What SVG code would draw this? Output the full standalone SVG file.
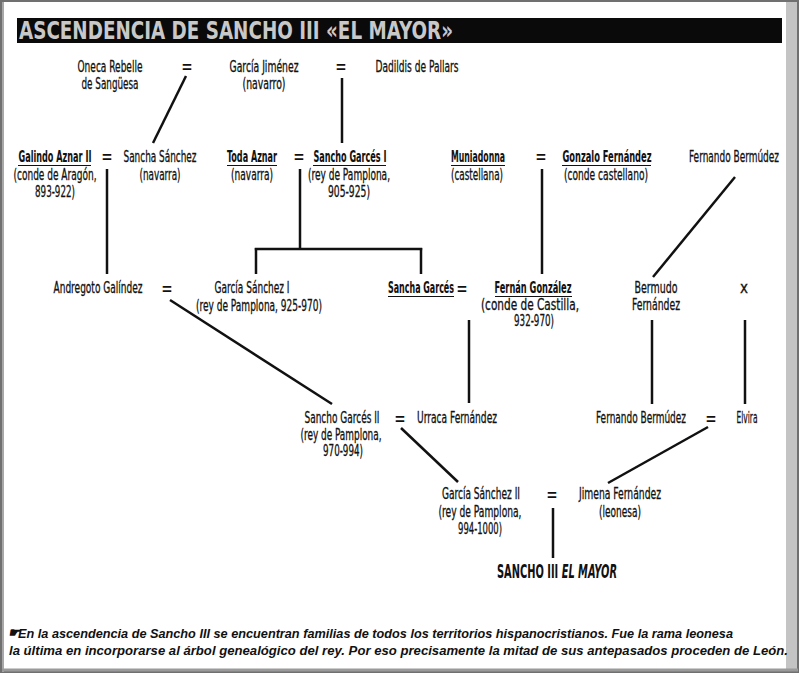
<svg xmlns="http://www.w3.org/2000/svg" width="800" height="674" viewBox="0 0 800 674">
<style>
.t{font-family:"Liberation Sans Narrow","DejaVu Sans Condensed","Liberation Sans",sans-serif;font-size:15px;fill:#111;stroke:#111;stroke-width:0.3;text-anchor:middle}
.b{font-weight:bold;stroke-width:0.1}
.eq{font-family:"Liberation Sans","DejaVu Sans",sans-serif;font-size:17px;font-weight:bold;fill:#111;text-anchor:middle}
.ul{stroke:#111;stroke-width:1.2}
.c line{stroke:#111;stroke-width:2.5;stroke-linecap:butt}
.cap{font-family:"Liberation Sans","Arial",sans-serif;font-size:13px;font-weight:bold;font-style:italic;fill:#111}
</style>
<rect x="0" y="0" width="800" height="674" fill="#fff"/>
<rect x="786" y="2" width="11" height="670" fill="#c4c4c4"/>
<rect x="1" y="1" width="797" height="671" fill="none" stroke="#707070" stroke-width="2"/>
<line x1="3" y1="2" x2="3" y2="672" stroke="#a8a8a8" stroke-width="2"/>
<line x1="2" y1="670" x2="798" y2="670" stroke="#9a9a9a" stroke-width="3"/>

<g id="title">
<rect x="17" y="18" width="765" height="25" fill="#0a0a0a"/>
<text x="19" y="39" font-family="Liberation Sans Narrow,DejaVu Sans Condensed,sans-serif" font-size="25" font-weight="bold" fill="#c8c8c8" textLength="434" lengthAdjust="spacingAndGlyphs">ASCENDENCIA DE SANCHO III «EL MAYOR»</text>
</g>

<g class="c" id="connectors">
<line x1="186" y1="76" x2="153" y2="143"/>
<line x1="342" y1="78" x2="342" y2="143"/>
<line x1="107" y1="169" x2="107" y2="274"/>
<line x1="300" y1="169" x2="300" y2="249"/>
<line x1="254.8" y1="249" x2="422.2" y2="249"/>
<line x1="256" y1="248" x2="256" y2="274"/>
<line x1="421" y1="248" x2="421" y2="274"/>
<line x1="542" y1="169" x2="542" y2="274"/>
<line x1="735" y1="177" x2="653" y2="277"/>
<line x1="170" y1="300" x2="332" y2="404"/>
<line x1="469" y1="320" x2="469" y2="403"/>
<line x1="652" y1="320" x2="652" y2="404"/>
<line x1="745" y1="320" x2="745" y2="404"/>
<line x1="401" y1="428" x2="458" y2="482"/>
<line x1="708" y1="427" x2="608" y2="483"/>
<line x1="553" y1="508" x2="553" y2="558"/>
</g>

<g id="oneca"><text class="t" x="110" y="72" textLength="65" lengthAdjust="spacingAndGlyphs">Oneca Rebelle</text><text class="t" x="110" y="89" textLength="57" lengthAdjust="spacingAndGlyphs">de Sangüesa</text></g>
<g id="eq1"><text class="eq" x="187" y="73">=</text></g>
<g id="garcia_jimenez"><text class="t" x="264" y="72" textLength="69" lengthAdjust="spacingAndGlyphs">García Jiménez</text><text class="t" x="264" y="89" textLength="43" lengthAdjust="spacingAndGlyphs">(navarro)</text></g>
<g id="eq2"><text class="eq" x="341" y="73">=</text></g>
<g id="dadildis"><text class="t" x="417" y="72" textLength="83" lengthAdjust="spacingAndGlyphs">Dadildis de Pallars</text></g>

<g id="galindo"><text class="t b" x="55" y="162" textLength="73" lengthAdjust="spacingAndGlyphs">Galindo Aznar II</text><line class="ul" x1="18" y1="165.5" x2="91" y2="165.5"/><text class="t" x="55" y="180" textLength="83" lengthAdjust="spacingAndGlyphs">(conde de Aragón,</text><text class="t" x="55" y="197" textLength="40" lengthAdjust="spacingAndGlyphs">893-922)</text></g>
<g id="eq3"><text class="eq" x="107" y="163">=</text></g>
<g id="sancha_sanchez"><text class="t" x="160" y="162" textLength="73" lengthAdjust="spacingAndGlyphs">Sancha Sánchez</text><text class="t" x="160" y="180" textLength="41" lengthAdjust="spacingAndGlyphs">(navarra)</text></g>
<g id="toda"><text class="t b" x="252" y="162" textLength="50" lengthAdjust="spacingAndGlyphs">Toda Aznar</text><line class="ul" x1="227" y1="165.5" x2="277" y2="165.5"/><text class="t" x="252" y="180" textLength="42" lengthAdjust="spacingAndGlyphs">(navarra)</text></g>
<g id="eq4"><text class="eq" x="299" y="163">=</text></g>
<g id="sancho_garces_i"><text class="t b" x="350" y="162" textLength="73" lengthAdjust="spacingAndGlyphs">Sancho Garcés I</text><line class="ul" x1="313" y1="165.5" x2="386" y2="165.5"/><text class="t" x="349" y="180" textLength="82" lengthAdjust="spacingAndGlyphs">(rey de Pamplona,</text><text class="t" x="349" y="197" textLength="42" lengthAdjust="spacingAndGlyphs">905-925)</text></g>
<g id="muniadonna"><text class="t b" x="478" y="162" textLength="54" lengthAdjust="spacingAndGlyphs">Muniadonna</text><line class="ul" x1="451" y1="165.5" x2="505" y2="165.5"/><text class="t" x="477" y="180" textLength="52" lengthAdjust="spacingAndGlyphs">(castellana)</text></g>
<g id="eq5"><text class="eq" x="541" y="163">=</text></g>
<g id="gonzalo"><text class="t b" x="607" y="162" textLength="89" lengthAdjust="spacingAndGlyphs">Gonzalo  Fernández</text><line class="ul" x1="562" y1="165.5" x2="651" y2="165.5"/><text class="t" x="606" y="180" textLength="84" lengthAdjust="spacingAndGlyphs">(conde castellano)</text></g>
<g id="fernando_bermudez_1"><text class="t" x="734" y="162" textLength="90" lengthAdjust="spacingAndGlyphs">Fernando Bermúdez</text></g>

<g id="andregoto"><text class="t" x="98" y="293" textLength="89" lengthAdjust="spacingAndGlyphs">Andregoto Galíndez</text></g>
<g id="eq6"><text class="eq" x="167" y="295">=</text></g>
<g id="garcia_sanchez_i"><text class="t" x="252" y="293" textLength="75" lengthAdjust="spacingAndGlyphs">García Sánchez I</text><text class="t" x="259" y="311" textLength="126" lengthAdjust="spacingAndGlyphs">(rey de Pamplona, 925-970)</text></g>
<g id="sancha_garces"><text class="t b" x="421" y="293" textLength="66" lengthAdjust="spacingAndGlyphs">Sancha Garcés</text><line class="ul" x1="388" y1="296.5" x2="454" y2="296.5"/></g>
<g id="eq7"><text class="eq" x="462" y="295">=</text></g>
<g id="fernan"><text class="t b" x="533" y="293" textLength="77" lengthAdjust="spacingAndGlyphs">Fernán González</text><line class="ul" x1="495" y1="296.5" x2="572" y2="296.5"/><text class="t" x="530" y="310" textLength="98" lengthAdjust="spacingAndGlyphs">(conde de Castilla,</text><text class="t" x="534" y="326" textLength="40" lengthAdjust="spacingAndGlyphs">932-970)</text></g>
<g id="bermudo"><text class="t" x="656" y="293" textLength="43" lengthAdjust="spacingAndGlyphs">Bermudo</text><text class="t" x="656" y="310" textLength="48" lengthAdjust="spacingAndGlyphs">Fernández</text></g>
<g id="x"><text class="t" x="744" y="293">x</text></g>

<g id="sancho_garces_ii"><text class="t" x="342" y="423" textLength="75" lengthAdjust="spacingAndGlyphs">Sancho Garcés II</text><text class="t" x="341" y="440" textLength="81" lengthAdjust="spacingAndGlyphs">(rey de Pamplona,</text><text class="t" x="343" y="456" textLength="40" lengthAdjust="spacingAndGlyphs">970-994)</text></g>
<g id="eq8"><text class="eq" x="400" y="425">=</text></g>
<g id="urraca"><text class="t" x="457" y="423" textLength="80" lengthAdjust="spacingAndGlyphs">Urraca Fernández</text></g>
<g id="fernando_bermudez_2"><text class="t" x="641" y="423" textLength="90" lengthAdjust="spacingAndGlyphs">Fernando Bermúdez</text></g>
<g id="eq9"><text class="eq" x="711" y="425">=</text></g>
<g id="elvira"><text class="t" x="747" y="423" textLength="21" lengthAdjust="spacingAndGlyphs">Elvira</text></g>

<g id="garcia_sanchez_ii"><text class="t" x="481" y="499" textLength="78" lengthAdjust="spacingAndGlyphs">García Sánchez II</text><text class="t" x="480" y="517" textLength="83" lengthAdjust="spacingAndGlyphs">(rey de Pamplona,</text><text class="t" x="480" y="534" textLength="44" lengthAdjust="spacingAndGlyphs">994-1000)</text></g>
<g id="eq10"><text class="eq" x="552" y="501">=</text></g>
<g id="jimena"><text class="t" x="620" y="499" textLength="82" lengthAdjust="spacingAndGlyphs">Jimena Fernández</text><text class="t" x="620" y="517" textLength="42" lengthAdjust="spacingAndGlyphs">(leonesa)</text></g>

<g id="sancho_iii"><text x="497" y="578" font-family="Liberation Sans Narrow,DejaVu Sans Condensed,sans-serif" font-size="19" font-weight="bold" fill="#111" textLength="120" lengthAdjust="spacingAndGlyphs">SANCHO III <tspan font-style="italic">EL MAYOR</tspan></text></g>

<g id="caption">
<text class="cap" x="8" y="637" font-style="normal" font-size="9">☛</text>
<text class="cap" x="18" y="638" textLength="715" lengthAdjust="spacingAndGlyphs">En la ascendencia de Sancho III se encuentran familias de todos los territorios hispanocristianos. Fue la rama leonesa</text>
<text class="cap" x="9" y="655" textLength="779" lengthAdjust="spacingAndGlyphs">la última en incorporarse al árbol genealógico del rey. Por eso precisamente la mitad de sus antepasados proceden de León.</text>
</g>
</svg>
